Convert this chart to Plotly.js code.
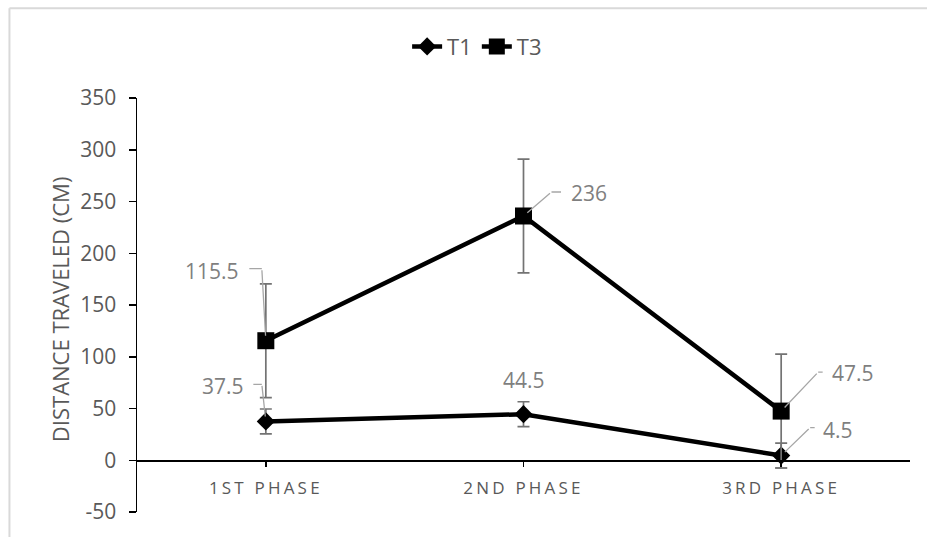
<!DOCTYPE html>
<html>
<head>
<meta charset="utf-8">
<script src="https://cdn.plot.ly/plotly-3.0.1.min.js"></script>
<style>
  html, body { margin: 0; padding: 0; background: #fff; }
  #chart { width: 927px; height: 537px; }
  .xtick text { letter-spacing: 3.2px; }
</style>
</head>
<body>
<div id="chart"></div>
<script>
// ---- data ----
const categories = ["1ST PHASE", "2ND PHASE", "3RD PHASE"];
const seriesNames = ["T1", "T3"];
const t1Values = [37.5, 44.5, 4.5];
const t3Values = [115.5, 236, 47.5];
const t1Errors = [12, 12, 12];
const t3Errors = [55, 55, 55];
const yTickValues = [-50, 0, 50, 100, 150, 200, 250, 300, 350];
const yTickLabels = ["-50", "0", "50", "100", "150", "200", "250", "300", "350"];
const yTitle = "DISTANCE TRAVELED (CM)";

// ---- style ----
const FONT = "Open Sans, Noto Sans, sans-serif";
const AXIS_GRAY = "#595959";
const LABEL_GRAY = "#7f7f7f";
const LEADER_GRAY = "#a6a6a6";
const ERR_GRAY = "#737373";

const traces = [
  {
    x: categories, y: t1Values, name: seriesNames[0], type: "scatter", mode: "lines+markers",
    line: { color: "#000", width: 4.5 },
    marker: { symbol: "diamond", size: 14, color: "#000" },
    error_y: { type: "data", array: t1Errors, visible: true, color: ERR_GRAY, thickness: 1.7, width: 6 }
  },
  {
    x: categories, y: t3Values, name: seriesNames[1], type: "scatter", mode: "lines+markers",
    line: { color: "#000", width: 4.5 },
    marker: { symbol: "square", size: 17, color: "#000" },
    error_y: { type: "data", array: t3Errors, visible: true, color: ERR_GRAY, thickness: 1.7, width: 6 }
  }
];

// label placement (pixel offsets from the point; dy positive = down)
// [series values, index, elbow dx, elbow dy, horizontal length, text dx, text dy]
const labelSpecs = [
  [t3Values, 0, -4, -72, -14, -54, -70],
  [t1Values, 0, -4, -37, -10, -43, -35],
  [t3Values, 1, 28, -24, 11, 65, -23],
  [t1Values, 1, null, null, null, 0, -34],
  [t3Values, 2, 37, -39, 6, 72, -38],
  [t1Values, 2, 29, -28, 6, 57, -26]
];

const annotations = [];
labelSpecs.forEach(s => {
  const vals = s[0], i = s[1];
  const x = categories[i], y = vals[i];
  annotations.push({
    x: x, y: y, xref: "x", yref: "y", text: String(y), showarrow: false,
    xshift: s[5], yshift: -s[6],
    font: { family: FONT, size: 21, color: LABEL_GRAY }
  });
  if (s[2] !== null) {
    annotations.push({
      x: x, y: y, xref: "x", yref: "y", text: "", showarrow: true,
      ax: s[2], ay: s[3], arrowhead: 0, arrowwidth: 1.3, arrowcolor: LEADER_GRAY, standoff: 5
    });
    annotations.push({
      x: x, y: y, xref: "x", yref: "y", text: "", showarrow: true,
      xshift: s[2], yshift: -s[3],
      ax: s[4], ay: 0, arrowhead: 0, arrowwidth: 1.3, arrowcolor: LEADER_GRAY, standoff: 0
    });
  }
});

annotations.push({
  xref: "paper", yref: "paper", x: -0.0996, y: 0.49, text: yTitle, textangle: -90,
  showarrow: false, xanchor: "center", yanchor: "middle",
  font: { family: FONT, size: 22, color: AXIS_GRAY }
});

const layout = {
  width: 927, height: 537,
  margin: { l: 137, r: 17, t: 97.5, b: 25, pad: 0 },
  paper_bgcolor: "#fff", plot_bgcolor: "rgba(0,0,0,0)",
  font: { family: FONT, color: AXIS_GRAY },
  showlegend: true,
  legend: {
    orientation: "h", x: 0.44, xanchor: "center", y: 1.124, yanchor: "middle",
    font: { family: FONT, size: 22, color: AXIS_GRAY },
    traceorder: "normal", itemwidth: 30
  },
  xaxis: {
    type: "category", range: [-0.5, 2.5],
    anchor: "free", position: 0.125,
    showline: true, linecolor: "#000", linewidth: 1.5,
    ticks: "outside", ticklen: 5, tickcolor: "#000", tickwidth: 1.5,
    showgrid: false, zeroline: false,
    tickfont: { family: FONT, size: 17, color: AXIS_GRAY },
    ticklabelstandoff: 7
  },
  yaxis: {
    range: [-50, 350], tickvals: yTickValues, ticktext: yTickLabels,
    showline: true, linecolor: "#000", linewidth: 1.5,
    ticks: "outside", ticklen: 7, tickcolor: "#000", tickwidth: 1.5,
    showgrid: false, zeroline: false,
    tickfont: { family: FONT, size: 21, color: AXIS_GRAY },
    ticklabelstandoff: 8
  },
  shapes: [
    { type: "line", xref: "paper", yref: "paper", x0: -0.165, x1: 1.03, y0: 1.217, y1: 1.217,
      line: { color: "#d9d9d9", width: 2 } },
    { type: "line", xref: "paper", yref: "paper", x0: -0.165, x1: -0.165, y0: 1.217, y1: -0.07,
      line: { color: "#d9d9d9", width: 2 } }
  ],
  annotations: annotations
};

Plotly.newPlot("chart", traces, layout, { displayModeBar: false, staticPlot: true });
</script>
</body>
</html>
